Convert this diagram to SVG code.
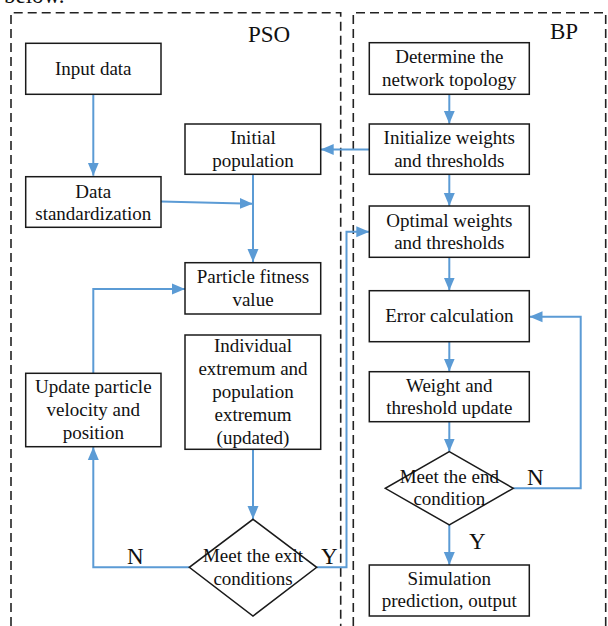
<svg xmlns="http://www.w3.org/2000/svg" width="608" height="626" viewBox="0 0 608 626">
<style>
.frame{fill:none;stroke:#222;stroke-width:1.6;stroke-dasharray:9,5}
.box{fill:#fff;stroke:#1a1a1a;stroke-width:1.5}
.t{font-family:"Liberation Serif","Times New Roman",serif;font-size:19px;fill:#111;text-anchor:middle}
.lbl{font-family:"Liberation Serif","Times New Roman",serif;font-size:23px;fill:#111}
.c{fill:none;stroke:#5b9bd5;stroke-width:2}
</style>
<defs>
<marker id="ah" markerUnits="userSpaceOnUse" markerWidth="14" markerHeight="12" refX="13" refY="6" orient="auto">
<path d="M0,0.5 L13,6 L0,11.5 Z" fill="#5b9bd5"/>
</marker>
</defs>
<rect width="608" height="626" fill="#fff"/>
<text class="lbl" x="4" y="2.5">below.</text>
<g id="frames">
<path class="frame" d="M11,640 V12.7 H340.7 V640"/>
<path class="frame" d="M353.3,640 V12.7 H605.7 V640"/>
<text class="lbl" x="248" y="41.5">PSO</text>
<text class="lbl" x="550" y="39">BP</text>
</g>
<g id="connectors">
<path class="c" d="M93.3,94.3 V175.7" marker-end="url(#ah)"/>
<path class="c" d="M161,201.5 L252.7,203.8" marker-end="url(#ah)"/>
<path class="c" d="M253,174.3 V262" marker-end="url(#ah)"/>
<path class="c" d="M93.3,373.3 V289 H185" marker-end="url(#ah)"/>
<path class="c" d="M253,449.3 V519" marker-end="url(#ah)"/>
<path class="c" d="M189.3,567.3 H93.3 V447" marker-end="url(#ah)"/>
<path class="c" d="M316.7,567.3 H346.5 V231.7 H369.3" marker-end="url(#ah)"/>
<path class="c" d="M449.3,94.3 V123.8" marker-end="url(#ah)"/>
<path class="c" d="M369.3,149.5 H320.7" marker-end="url(#ah)"/>
<path class="c" d="M449.3,174.3 V206" marker-end="url(#ah)"/>
<path class="c" d="M449.3,257.3 V290.5" marker-end="url(#ah)"/>
<path class="c" d="M449.3,341.7 V371.5" marker-end="url(#ah)"/>
<path class="c" d="M449.3,421.7 V451.5" marker-end="url(#ah)"/>
<path class="c" d="M513.3,488.3 H580.7 V316.7 H529.5" marker-end="url(#ah)"/>
<path class="c" d="M449.3,525 V565" marker-end="url(#ah)"/>
<text class="lbl" x="127" y="564">N</text>
<text class="lbl" x="321" y="564">Y</text>
<text class="lbl" x="527" y="485">N</text>
<text class="lbl" x="469" y="548.5">Y</text>
</g>
<g id="input-data">
<rect class="box" x="25.7" y="43.3" width="135.3" height="51"/>
<text class="t" x="93.3" y="75">Input data</text>
</g>
<g id="data-standardization">
<rect class="box" x="25.7" y="176.7" width="135.3" height="50.6"/>
<text class="t" x="93.3" y="197.5">Data</text>
<text class="t" x="93.3" y="220">standardization</text>
</g>
<g id="initial-population">
<rect class="box" x="185" y="124" width="135.7" height="50.3"/>
<text class="t" x="253" y="144">Initial</text>
<text class="t" x="253" y="166.7">population</text>
</g>
<g id="particle-fitness">
<rect class="box" x="185" y="262.7" width="135.7" height="51.3"/>
<text class="t" x="253" y="283.3">Particle fitness</text>
<text class="t" x="253" y="306">value</text>
</g>
<g id="individual-extremum">
<rect class="box" x="185" y="335" width="135.7" height="114.3"/>
<text class="t" x="253" y="352">Individual</text>
<text class="t" x="253" y="375">extremum and</text>
<text class="t" x="253" y="398.3">population</text>
<text class="t" x="253" y="421">extremum</text>
<text class="t" x="253" y="443.5">(updated)</text>
</g>
<g id="update-particle">
<rect class="box" x="25.7" y="373.3" width="135.3" height="73.4"/>
<text class="t" x="93.3" y="393.3">Update particle</text>
<text class="t" x="93.3" y="416">velocity and</text>
<text class="t" x="93.3" y="439">position</text>
</g>
<g id="exit-conditions">
<path class="box" d="M253,519.3 L316.7,567.3 L253,616 L189.3,567.3 Z"/>
<text class="t" x="253" y="561.7">Meet the exit</text>
<text class="t" x="253" y="585">conditions</text>
</g>
<g id="determine-topology">
<rect class="box" x="369.3" y="42.7" width="160" height="51.6"/>
<text class="t" x="449.3" y="63.3">Determine the</text>
<text class="t" x="449.3" y="86">network topology</text>
</g>
<g id="initialize-weights">
<rect class="box" x="369.3" y="124" width="160" height="50.3"/>
<text class="t" x="449.3" y="144">Initialize weights</text>
<text class="t" x="449.3" y="166.7">and thresholds</text>
</g>
<g id="optimal-weights">
<rect class="box" x="369.3" y="206" width="160" height="51.3"/>
<text class="t" x="449.3" y="226.7">Optimal weights</text>
<text class="t" x="449.3" y="249.3">and thresholds</text>
</g>
<g id="error-calculation">
<rect class="box" x="369.3" y="290.7" width="160" height="51"/>
<text class="t" x="449.3" y="322">Error calculation</text>
</g>
<g id="weight-update">
<rect class="box" x="369.3" y="371.7" width="160" height="50"/>
<text class="t" x="449.3" y="391.7">Weight and</text>
<text class="t" x="449.3" y="413.5">threshold update</text>
</g>
<g id="end-condition">
<path class="box" d="M449.3,451.7 L513.3,488.3 L449.3,525 L385.3,488.3 Z"/>
<text class="t" x="449.3" y="482.7">Meet the end</text>
<text class="t" x="449.3" y="505">condition</text>
</g>
<g id="simulation-output">
<rect class="box" x="369.3" y="565" width="160" height="51"/>
<text class="t" x="449.3" y="585">Simulation</text>
<text class="t" x="449.3" y="607">prediction, output</text>
</g>
</svg>
